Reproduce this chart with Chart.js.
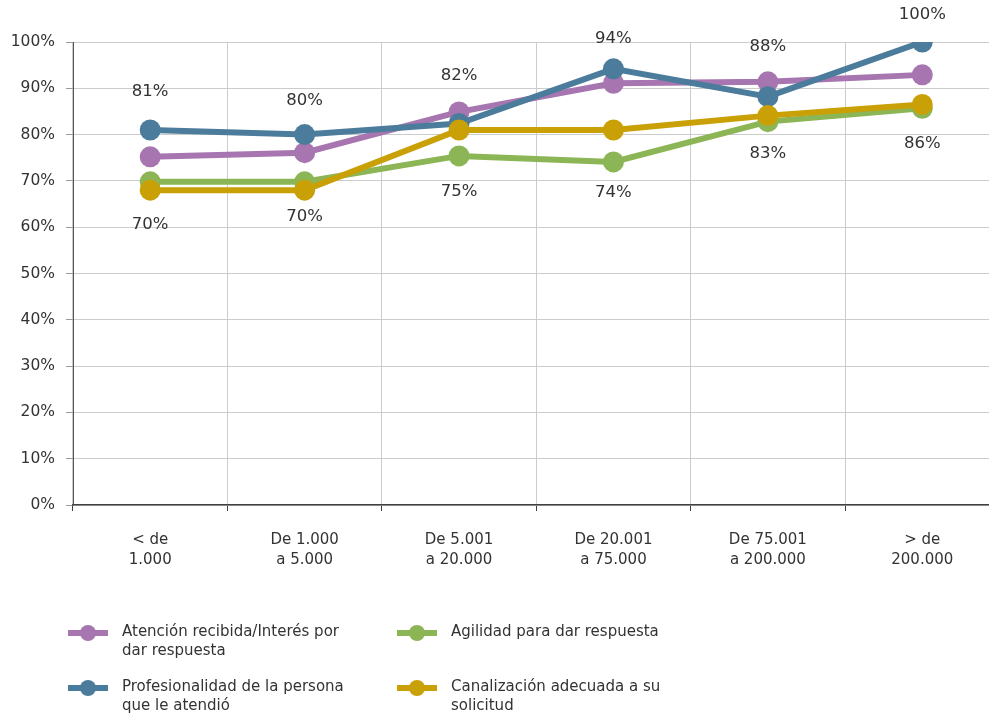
<!DOCTYPE html>
<html>
<head>
<meta charset="utf-8">
<script src="https://cdn.jsdelivr.net/npm/chart.js@4.4.1/dist/chart.umd.min.js"></script>
<style>
html, body { margin: 0; padding: 0; background: #fff; overflow: hidden; }
#wrap { position: relative; width: 1010px; height: 717px; }
</style>
</head>
<body>
<div id="wrap"><canvas id="myChart" width="1010" height="717"></canvas></div>
<script>
const categories = [['< de', '1.000'], ['De 1.000', 'a 5.000'], ['De 5.001', 'a 20.000'], ['De 20.001', 'a 75.000'], ['De 75.001', 'a 200.000'], ['> de', '200.000']];
const atencion = [75.2, 76.1, 84.9, 91.1, 91.4, 92.9];
const profesionalidad = [81, 80, 82.4, 94.2, 88.2, 100];
const agilidad = [69.8, 69.8, 75.4, 74.1, 82.8, 85.7];
const canalizacion = [68, 68, 81, 81, 84.1, 86.5];
const seriesNames = [
    ['Atención recibida/Interés por', 'dar respuesta'],
    ['Profesionalidad de la persona', 'que le atendió'],
    ['Agilidad para dar respuesta'],
    ['Canalización adecuada a su', 'solicitud']
];
const colors = ['#a776b0', '#4c7c9b', '#8cb655', '#c9a006'];

const FONT = '"DejaVu Sans", sans-serif';
const TEXT = '#333333';

// labels above the blue points and below the green ones, nudged like the original
const pointLabels = {
    id: 'pointLabels',
    afterDatasetsDraw(chart) {
        const c = chart.ctx;
        c.save();
        c.font = '16.5px ' + FONT;
        c.fillStyle = TEXT;
        c.textAlign = 'center';
        c.textBaseline = 'middle';
        chart.data.datasets.forEach((ds, i) => {
            if (!ds.labelShift) return;
            const meta = chart.getDatasetMeta(i);
            meta.data.forEach((pt, j) => {
                c.fillText(Math.round(ds.data[j]) + '%', pt.x, pt.y + ds.labelShift[j]);
            });
        });
        c.restore();
    }
};

// legend in two columns, with wrapped labels
const bottomLegend = {
    id: 'bottomLegend',
    afterDraw(chart) {
        const c = chart.ctx;
        const spots = [[88, 633], [88, 688], [417, 633], [417, 688]];
        c.save();
        c.font = '15px ' + FONT;
        c.textBaseline = 'middle';
        c.textAlign = 'left';
        seriesNames.forEach((lines, i) => {
            const [x, y] = spots[i];
            c.strokeStyle = colors[i];
            c.lineWidth = 6;
            c.beginPath();
            c.moveTo(x - 20, y);
            c.lineTo(x + 20, y);
            c.stroke();
            c.fillStyle = colors[i];
            c.beginPath();
            c.arc(x, y, 8, 0, Math.PI * 2);
            c.fill();
            c.fillStyle = TEXT;
            lines.forEach((t, k) => c.fillText(t, x + 34, y - 1 + k * 19));
        });
        c.restore();
    }
};

const mk = (idx, data, shift) => ({
    label: seriesNames[idx].join(' '),
    data: data,
    borderColor: colors[idx],
    backgroundColor: colors[idx],
    pointBackgroundColor: colors[idx],
    pointBorderWidth: 0,
    pointRadius: 10.5,
    borderWidth: 6,
    tension: 0,
    fill: false,
    labelShift: shift
});

const ctx = document.getElementById('myChart').getContext('2d');
const myChart = new Chart(ctx, {
    type: 'line',
    data: {
        labels: categories,
        // first dataset is drawn on top
        datasets: [
            mk(3, canalizacion),
            mk(2, agilidad, [43, 35, 36, 31, 32, 36]),
            mk(1, profesionalidad, [-38, -34, -48, -30, -50, -27]),
            mk(0, atencion)
        ]
    },
    options: {
        responsive: false,
        animation: false,
        layout: { padding: { top: 42, right: 5, left: 0, bottom: 0 } },
        plugins: {
            legend: { display: false },
            tooltip: { enabled: false }
        },
        scales: {
            x: {
                offset: true,
                afterFit: (scale) => { scale.height = 212; },
                grid: { offset: true, color: '#cccccc', tickLength: 6, tickColor: '#404040' },
                border: { color: '#404040', width: 1.5 },
                ticks: { color: TEXT, font: { family: FONT, size: 15, lineHeight: 1.33 }, padding: 19, maxRotation: 0, autoSkip: false }
            },
            y: {
                min: 0,
                max: 100,
                afterFit: (scale) => { scale.width = 73; },
                grid: { color: '#cccccc', tickLength: 7, tickColor: '#9a9a9a' },
                border: { color: '#555555', width: 1 },
                ticks: { stepSize: 10, color: TEXT, font: { family: FONT, size: 15.5 }, padding: 11, callback: (v) => v + '%' }
            }
        }
    },
    plugins: [pointLabels, bottomLegend]
});
</script>
</body>
</html>
